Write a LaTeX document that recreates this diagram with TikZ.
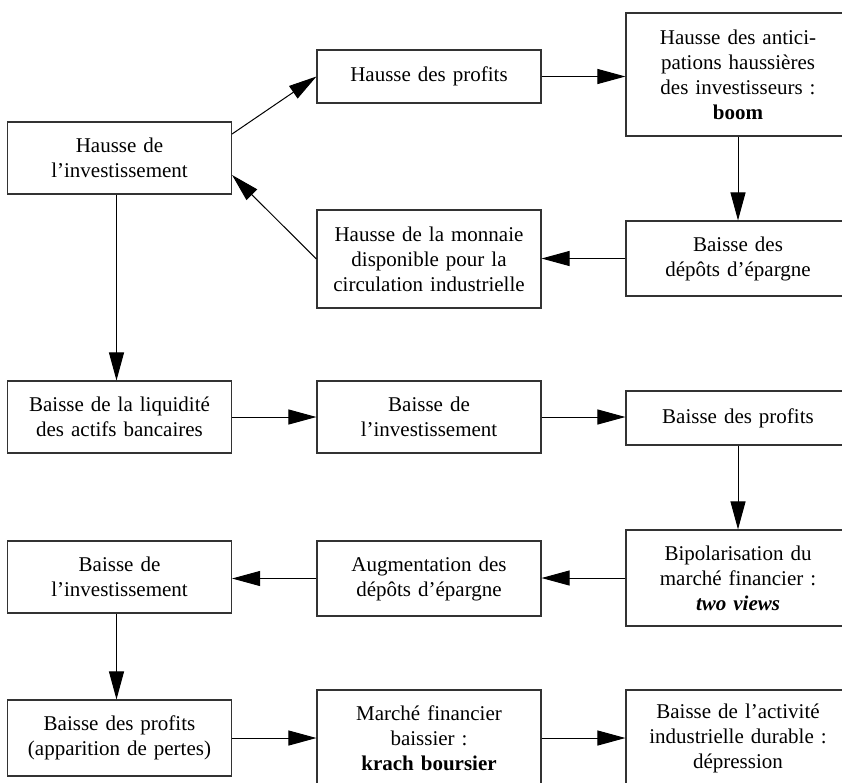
\documentclass[tikz,border=0pt]{standalone}
\usepackage{fontspec}
\setmainfont{Liberation Serif}
\usetikzlibrary{calc}
\usetikzlibrary{arrows.meta}
\def\boxw{224}

\tikzset{
  box/.style={draw=black!80, line width=1.1pt, align=center, text width=\boxw pt - 24pt,
    inner xsep=12pt, minimum width=\boxw pt, font=\fontsize{21}{25}\selectfont},
  arr/.style={line width=1pt, -{Triangle[length=28pt, width=15pt]}}
}

\begin{document}
\begin{tikzpicture}[x=1pt, y=1pt]

\useasboundingbox (0,0) rectangle (842,-782);
\clip (0,0) rectangle (842,-782);

% first loop

\node[box, minimum height=72pt] (inv1) at (119.5,-158) {Hausse de\\l’investissement};
\node[box, minimum height=53pt] (profH) at (429,-76.5) {Hausse des profits};
\node[box, minimum height=123pt] (antic) at (738,-74.5) {Hausse des antici-\\pations haussières\\des investisseurs :\\\textbf{boom}};
\node[box, minimum height=75pt] (depB) at (738,-258.5) {Baisse des\\dépôts d’épargne};
\node[box, minimum height=98pt] (monn) at (429,-259) {Hausse de la monnaie\\disponible pour la\\circulation industrielle};

% second row

\node[box, minimum height=72pt] (liq) at (119.5,-417) {Baisse de la liquidité\\des actifs bancaires};
\node[box, minimum height=72pt] (inv2) at (429,-417) {Baisse de\\l’investissement};
\node[box, minimum height=54pt] (profB) at (738,-418) {Baisse des profits};

% third row

\node[box, minimum height=96pt] (bipo) at (738,-578) {Bipolarisation du\\marché financier :\\\textbf{\textit{two views}}};
\node[box, minimum height=75pt] (augm) at (429,-578.5) {Augmentation des\\dépôts d’épargne};
\node[box, minimum height=72pt] (inv3) at (119.5,-577) {Baisse de\\l’investissement};

% last row

\node[box, minimum height=76pt] (prof2) at (119.5,-738) {Baisse des profits\\(apparition de pertes)};
\node[box, minimum height=96pt] (krach) at (429,-738) {Marché financier\\baissier :\\\textbf{krach boursier}};
\node[box, minimum height=96pt] (depr) at (738,-738) {Baisse de l’activité\\industrielle durable :\\dépression};

% arrows

\draw[arr] ([yshift=24pt]inv1.east) -- (profH.west);
\draw[arr] (profH.east) -- (profH.east -| antic.west);
\draw[arr] (antic.south) -- (depB.north);
\draw[arr] (depB.west) -- (depB.west -| monn.east);
\draw[arr] (monn.west) -- ([yshift=-17pt]inv1.east);
\draw[arr] ([xshift=-3pt]inv1.south) -- ([xshift=-3pt]liq.north);

\draw[arr] (liq.east) -- (liq.east -| inv2.west);
\draw[arr] (inv2.east) -- (inv2.east -| profB.west);
\draw[arr] (profB.south) -- (bipo.north);
\draw[arr] (bipo.west) -- (bipo.west -| augm.east);
\draw[arr] (augm.west) -- (augm.west -| inv3.east);
\draw[arr] ([xshift=-3pt]inv3.south) -- ([xshift=-3pt]prof2.north);
\draw[arr] (prof2.east) -- (krach.west);
\draw[arr] (krach.east) -- (depr.west);

\end{tikzpicture}
\end{document}
